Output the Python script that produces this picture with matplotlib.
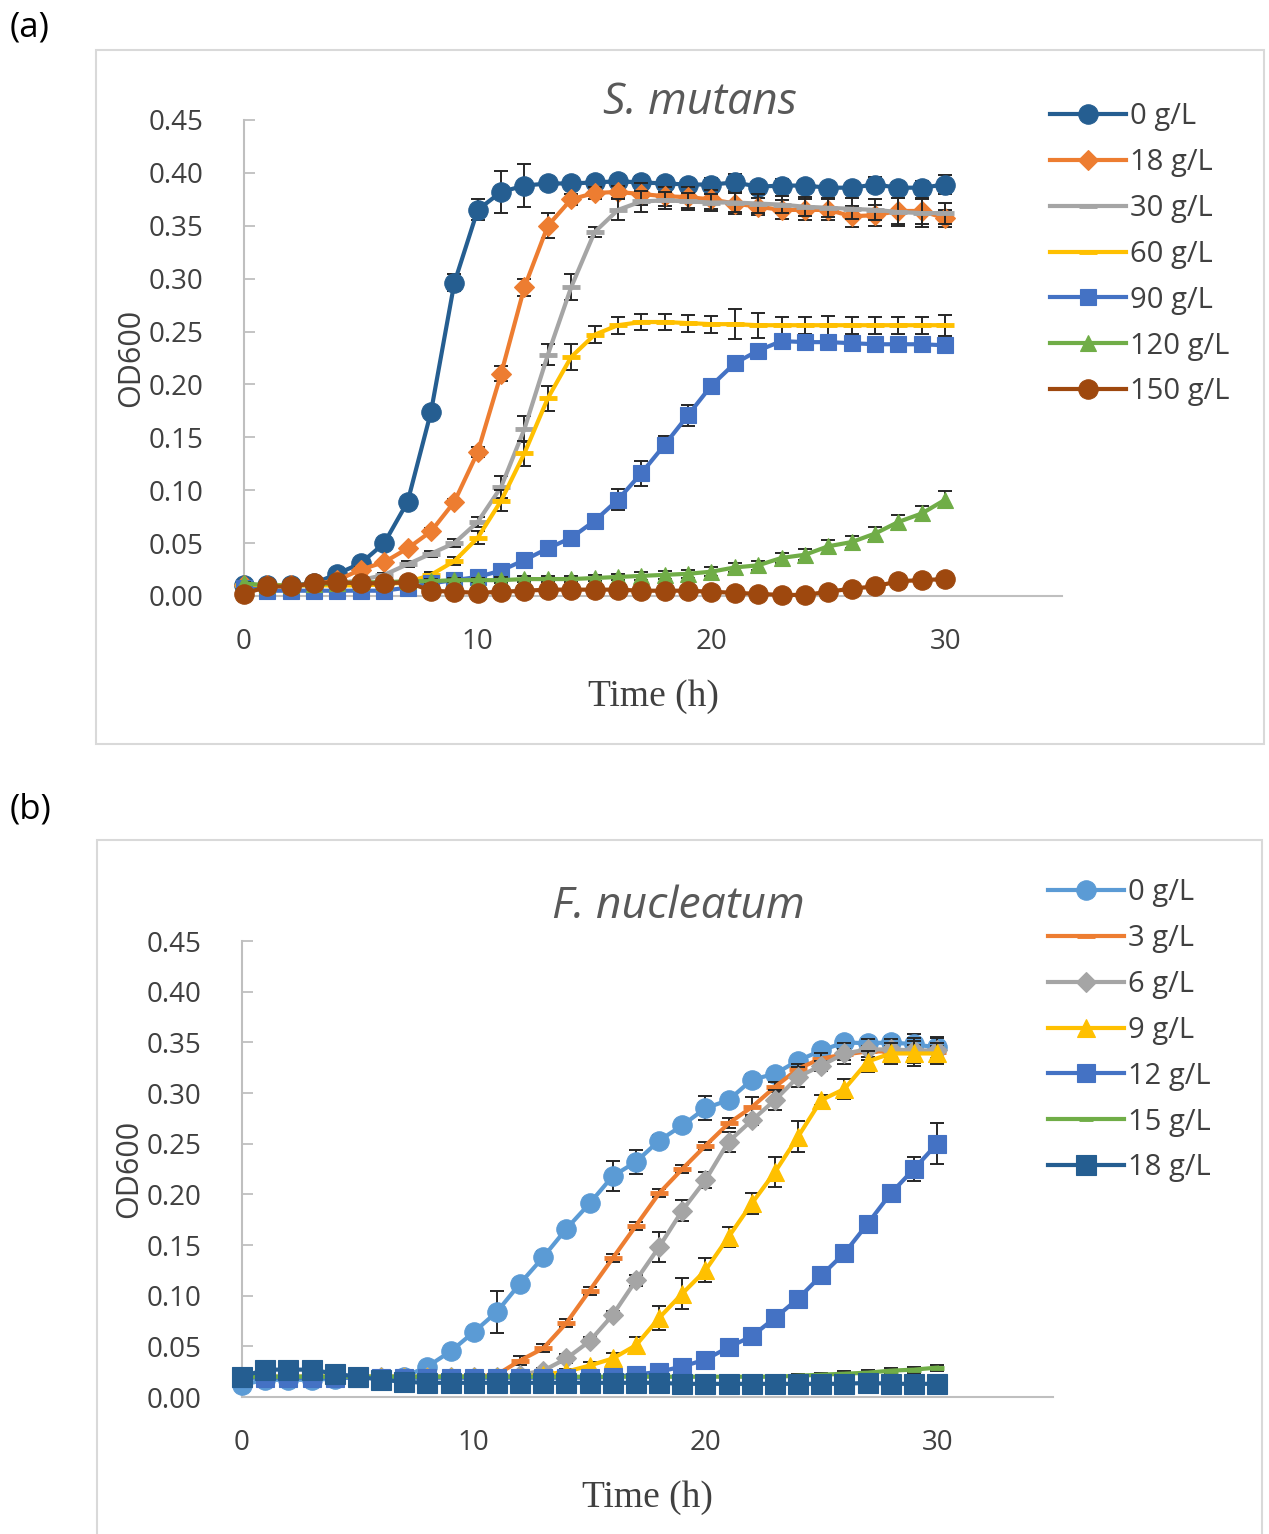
import numpy as np
import matplotlib
matplotlib.use("Agg")
import matplotlib.pyplot as plt
from matplotlib.patches import Rectangle

plt.rcParams['font.family'] = ['Open Sans', 'DejaVu Sans']

time_h = list(range(31))

# ---------------- Panel (a): S. mutans ----------------
a_labels = ["0 g/L", "18 g/L", "30 g/L", "60 g/L", "90 g/L", "120 g/L", "150 g/L"]
a_0 = [0.010, 0.010, 0.010, 0.012, 0.021, 0.031, 0.050, 0.089, 0.174, 0.296, 0.365, 0.382, 0.388,
       0.390, 0.390, 0.391, 0.392, 0.391, 0.390, 0.389, 0.389, 0.391, 0.387, 0.388, 0.388, 0.386,
       0.386, 0.389, 0.386, 0.386, 0.389]
a_18 = [0.010, 0.010, 0.010, 0.011, 0.015, 0.025, 0.032, 0.045, 0.061, 0.089, 0.136, 0.210, 0.292,
        0.350, 0.375, 0.381, 0.382, 0.380, 0.378, 0.377, 0.375, 0.371, 0.368, 0.365, 0.365, 0.365,
        0.359, 0.360, 0.364, 0.364, 0.357]
a_30 = [0.010, 0.010, 0.010, 0.010, 0.012, 0.015, 0.020, 0.030, 0.040, 0.050, 0.070, 0.103, 0.158,
        0.228, 0.292, 0.344, 0.365, 0.373, 0.374, 0.373, 0.372, 0.372, 0.371, 0.370, 0.368, 0.367,
        0.366, 0.365, 0.363, 0.362, 0.362]
a_60 = [0.010, 0.010, 0.010, 0.010, 0.010, 0.010, 0.011, 0.013, 0.020, 0.033, 0.055, 0.090, 0.135,
        0.187, 0.226, 0.247, 0.256, 0.259, 0.259, 0.258, 0.257, 0.257, 0.256, 0.256, 0.256, 0.256,
        0.256, 0.256, 0.256, 0.256, 0.256]
a_90 = [0.008, 0.005, 0.005, 0.005, 0.005, 0.005, 0.005, 0.008, 0.012, 0.015, 0.018, 0.024, 0.034,
        0.045, 0.055, 0.071, 0.091, 0.116, 0.143, 0.171, 0.199, 0.220, 0.232, 0.241, 0.240, 0.240,
        0.239, 0.238, 0.238, 0.238, 0.237]
a_120 = [0.012, 0.010, 0.010, 0.011, 0.012, 0.013, 0.013, 0.014, 0.014, 0.015, 0.015, 0.015, 0.016,
         0.016, 0.016, 0.017, 0.018, 0.019, 0.020, 0.021, 0.023, 0.027, 0.029, 0.036, 0.039, 0.047,
         0.051, 0.059, 0.070, 0.078, 0.091]
a_150 = [0.002, 0.009, 0.009, 0.012, 0.013, 0.012, 0.012, 0.013, 0.005, 0.004, 0.003, 0.004, 0.005,
         0.006, 0.006, 0.006, 0.006, 0.005, 0.005, 0.005, 0.004, 0.003, 0.002, 0.001, 0.001, 0.004,
         0.007, 0.009, 0.014, 0.015, 0.016]

a_0_err = [0.001, 0.001, 0.001, 0.001, 0.002, 0.002, 0.003, 0.003, 0.004, 0.008, 0.010, 0.020, 0.020,
           0.004, 0.003, 0.004, 0.005, 0.006, 0.005, 0.004, 0.006, 0.008, 0.004, 0.006, 0.005, 0.003,
           0.004, 0.007, 0.005, 0.006, 0.009]
a_18_err = [0.001, 0.001, 0.001, 0.001, 0.001, 0.002, 0.002, 0.002, 0.003, 0.003, 0.005, 0.007, 0.008,
            0.012, 0.005, 0.006, 0.006, 0.010, 0.009, 0.010, 0.009, 0.010, 0.008, 0.009, 0.010, 0.010,
            0.010, 0.010, 0.012, 0.012, 0.008]
a_30_err = [0.001, 0.001, 0.001, 0.001, 0.001, 0.002, 0.002, 0.003, 0.003, 0.004, 0.005, 0.010, 0.012,
            0.010, 0.012, 0.005, 0.010, 0.010, 0.008, 0.008, 0.008, 0.009, 0.009, 0.008, 0.009, 0.009,
            0.010, 0.010, 0.013, 0.013, 0.010]
a_60_err = [0.001, 0.001, 0.001, 0.001, 0.001, 0.001, 0.001, 0.002, 0.003, 0.004, 0.006, 0.010, 0.012,
            0.012, 0.012, 0.008, 0.008, 0.008, 0.008, 0.008, 0.008, 0.014, 0.012, 0.008, 0.008, 0.009,
            0.008, 0.008, 0.008, 0.008, 0.010]
a_90_err = [0.001, 0.001, 0.001, 0.001, 0.001, 0.001, 0.001, 0.001, 0.002, 0.002, 0.002, 0.003, 0.003,
            0.005, 0.003, 0.004, 0.010, 0.012, 0.008, 0.010, 0.004, 0.005, 0.005, 0.004, 0.006, 0.005,
            0.005, 0.007, 0.005, 0.003, 0.003]
a_120_err = [0.001, 0.001, 0.001, 0.001, 0.001, 0.002, 0.002, 0.002, 0.002, 0.002, 0.002, 0.003, 0.003,
             0.003, 0.003, 0.003, 0.003, 0.004, 0.004, 0.004, 0.004, 0.004, 0.004, 0.005, 0.005, 0.006,
             0.006, 0.006, 0.007, 0.007, 0.008]
a_150_err = [0.001] * 31

# ---------------- Panel (b): F. nucleatum ----------------
b_labels = ["0 g/L", "3 g/L", "6 g/L", "9 g/L", "12 g/L", "15 g/L", "18 g/L"]
b_0 = [0.012, 0.017, 0.017, 0.017, 0.018, 0.020, 0.018, 0.020, 0.030, 0.045, 0.064, 0.084, 0.112,
       0.138, 0.166, 0.191, 0.218, 0.232, 0.253, 0.268, 0.285, 0.293, 0.313, 0.319, 0.332, 0.342,
       0.350, 0.349, 0.350, 0.348, 0.345]
b_3 = [0.020, 0.020, 0.020, 0.020, 0.020, 0.020, 0.020, 0.020, 0.020, 0.020, 0.020, 0.022, 0.036,
       0.048, 0.073, 0.105, 0.137, 0.169, 0.201, 0.225, 0.248, 0.270, 0.286, 0.306, 0.324, 0.334,
       0.338, 0.341, 0.341, 0.341, 0.340]
b_6 = [0.020, 0.020, 0.020, 0.020, 0.020, 0.020, 0.020, 0.020, 0.020, 0.020, 0.020, 0.020, 0.022,
       0.026, 0.038, 0.055, 0.081, 0.115, 0.148, 0.184, 0.214, 0.252, 0.273, 0.293, 0.316, 0.327,
       0.339, 0.343, 0.343, 0.342, 0.342]
b_9 = [0.020, 0.020, 0.020, 0.020, 0.020, 0.020, 0.020, 0.020, 0.020, 0.020, 0.020, 0.020, 0.020,
       0.022, 0.025, 0.031, 0.038, 0.051, 0.078, 0.102, 0.125, 0.158, 0.191, 0.222, 0.257, 0.293,
       0.304, 0.331, 0.339, 0.339, 0.339]
b_12 = [0.019, 0.019, 0.019, 0.019, 0.019, 0.019, 0.019, 0.019, 0.019, 0.019, 0.019, 0.019, 0.019,
        0.019, 0.019, 0.019, 0.020, 0.022, 0.025, 0.030, 0.037, 0.049, 0.060, 0.078, 0.097, 0.120,
        0.142, 0.171, 0.201, 0.225, 0.250]
b_15 = [0.020, 0.020, 0.020, 0.020, 0.020, 0.020, 0.020, 0.020, 0.020, 0.020, 0.020, 0.020, 0.020,
        0.020, 0.020, 0.020, 0.020, 0.020, 0.020, 0.020, 0.020, 0.020, 0.020, 0.020, 0.021, 0.022,
        0.023, 0.024, 0.026, 0.027, 0.029]
b_18 = [0.020, 0.027, 0.027, 0.027, 0.023, 0.020, 0.017, 0.015, 0.014, 0.014, 0.014, 0.014, 0.014,
        0.014, 0.014, 0.014, 0.014, 0.014, 0.014, 0.013, 0.013, 0.013, 0.013, 0.013, 0.013, 0.013,
        0.013, 0.014, 0.013, 0.013, 0.013]

b_0_err = [0.001, 0.001, 0.001, 0.001, 0.001, 0.001, 0.001, 0.001, 0.002, 0.005, 0.005, 0.021, 0.004,
           0.006, 0.004, 0.005, 0.015, 0.012, 0.006, 0.005, 0.012, 0.005, 0.006, 0.005, 0.004, 0.005,
           0.004, 0.004, 0.006, 0.010, 0.010]
b_3_err = [0.001, 0.001, 0.001, 0.001, 0.001, 0.001, 0.001, 0.001, 0.001, 0.001, 0.001, 0.002, 0.004,
           0.004, 0.004, 0.004, 0.004, 0.004, 0.004, 0.004, 0.004, 0.005, 0.010, 0.005, 0.005, 0.005,
           0.005, 0.005, 0.005, 0.006, 0.006]
b_6_err = [0.001, 0.001, 0.001, 0.001, 0.001, 0.001, 0.001, 0.001, 0.001, 0.001, 0.001, 0.002, 0.002,
           0.003, 0.004, 0.004, 0.004, 0.005, 0.015, 0.010, 0.008, 0.010, 0.005, 0.010, 0.010, 0.005,
           0.010, 0.010, 0.010, 0.012, 0.012]
b_9_err = [0.001, 0.001, 0.001, 0.001, 0.001, 0.001, 0.001, 0.001, 0.001, 0.001, 0.001, 0.002, 0.002,
           0.002, 0.003, 0.004, 0.005, 0.008, 0.012, 0.015, 0.012, 0.010, 0.010, 0.015, 0.015, 0.005,
           0.010, 0.010, 0.010, 0.012, 0.010]
b_12_err = [0.001, 0.001, 0.001, 0.001, 0.001, 0.001, 0.001, 0.001, 0.001, 0.001, 0.001, 0.001, 0.001,
            0.001, 0.001, 0.001, 0.002, 0.002, 0.002, 0.003, 0.003, 0.005, 0.004, 0.005, 0.004, 0.004,
            0.004, 0.004, 0.006, 0.012, 0.020]
b_15_err = [0.001] * 24 + [0.002, 0.002, 0.003, 0.003, 0.003, 0.003, 0.003]
b_18_err = [0.001, 0.002, 0.002, 0.002, 0.003, 0.002, 0.001, 0.001, 0.001, 0.001, 0.001, 0.001, 0.001,
            0.001, 0.001, 0.001, 0.001, 0.001, 0.001, 0.001, 0.001, 0.001, 0.001, 0.001, 0.001, 0.001,
            0.001, 0.001, 0.001, 0.001, 0.001]

y_ticks = [0.00, 0.05, 0.10, 0.15, 0.20, 0.25, 0.30, 0.35, 0.40, 0.45]
x_ticks = [0, 10, 20, 30]

# styles (colour, marker, markersize)
a_styles = [("#255E91", "o", 14), ("#ED7D31", "D", 10), ("#A5A5A5", "_", 13),
            ("#FFC000", "_", 13), ("#4472C4", "s", 12), ("#70AD47", "^", 12),
            ("#9E480E", "o", 14)]
b_styles = [("#5B9BD5", "o", 14), ("#ED7D31", "_", 13), ("#A5A5A5", "D", 10),
            ("#FFC000", "^", 13), ("#4472C4", "s", 13), ("#70AD47", "_", 10),
            ("#255E91", "s", 14)]

W, H = 1269, 1534
fig = plt.figure(figsize=(W / 100, H / 100), dpi=100)

# panel frames
fig.add_artist(Rectangle((96 / W, 1 - 744 / H), (1264 - 96) / W, (744 - 50) / H,
                         transform=fig.transFigure, fill=False, edgecolor="#D9D9D9", lw=1.5))
fig.add_artist(Rectangle((97 / W, -0.01), (1262 - 97) / W, 1 - 840 / H + 0.01,
                         transform=fig.transFigure, fill=False, edgecolor="#D9D9D9", lw=1.5))
fig.text(10 / W, 1 - 28 / H, "(a)", fontsize=25, va="center", ha="left", color="#000000")
fig.text(10 / W, 1 - 810 / H, "(b)", fontsize=25, va="center", ha="left", color="#000000")


def draw_panel(rect, series, errs, labels, styles, title, title_xy, legend_xy):
    ax = fig.add_axes(rect)
    handles = []
    for i, (ys, es, lab, (c, m, ms)) in enumerate(zip(series, errs, labels, styles)):
        ax.errorbar(time_h, ys, yerr=es, fmt="none", ecolor="#262626", elinewidth=1.4,
                    capsize=5, capthick=1.4, zorder=2 + i * 2)
        mew = 3.5 if m == "_" else 0.8
        ln, = ax.plot(time_h, ys, color=c, lw=3, marker=m, markersize=ms,
                      markerfacecolor=c, markeredgecolor=c, markeredgewidth=mew,
                      label=lab, zorder=3 + i * 2, clip_on=False)
        handles.append(ln)
    ax.set_xlim(0, 35)
    ax.set_ylim(0, 0.45)
    ax.set_yticks(y_ticks)
    ax.set_yticklabels([f"{v:.2f}" for v in y_ticks])
    ax.set_xticks(x_ticks)
    for s in ("top", "right"):
        ax.spines[s].set_visible(False)
    for s in ("left", "bottom"):
        ax.spines[s].set_color("#BFBFBF")
        ax.spines[s].set_linewidth(1.5)
    ax.tick_params(axis="y", direction="in", length=8, width=1.3, color="#BFBFBF",
                   labelsize=20, labelcolor="#404040", pad=29)
    ax.tick_params(axis="x", length=0, labelsize=20, labelcolor="#404040", pad=23)
    ax.set_xlabel("Time (h)", family=["Liberation Serif", "DejaVu Serif"], fontsize=27,
                  color="#404040", labelpad=17)
    ax.set_ylabel("OD600", fontsize=22, color="#404040", labelpad=2)
    fig.text(title_xy[0] / W, 1 - title_xy[1] / H, title, fontsize=32, style="italic",
             color="#595959", ha="center", va="center")
    leg = fig.legend(handles=handles, labels=labels, loc="upper left",
                     bbox_to_anchor=(legend_xy[0] / W, 1 - legend_xy[1] / H),
                     frameon=False, fontsize=21, handlelength=2.6, handletextpad=0.15,
                     labelspacing=0.58, borderaxespad=0, borderpad=0)
    for t in leg.get_texts():
        t.set_color("#404040")
    return ax


draw_panel([244 / W, 1 - 596 / H, (1062 - 244) / W, (596 - 120) / H],
           [a_0, a_18, a_30, a_60, a_90, a_120, a_150],
           [a_0_err, a_18_err, a_30_err, a_60_err, a_90_err, a_120_err, a_150_err],
           a_labels, a_styles, "S. mutans", (700, 103), (1050, 102))

draw_panel([242 / W, 1 - 1397 / H, (1053 - 242) / W, (1397 - 941) / H],
           [b_0, b_3, b_6, b_9, b_12, b_15, b_18],
           [b_0_err, b_3_err, b_6_err, b_9_err, b_12_err, b_15_err, b_18_err],
           b_labels, b_styles, "F. nucleatum", (678, 907), (1048, 878))

fig.savefig("out.png", dpi=100)
